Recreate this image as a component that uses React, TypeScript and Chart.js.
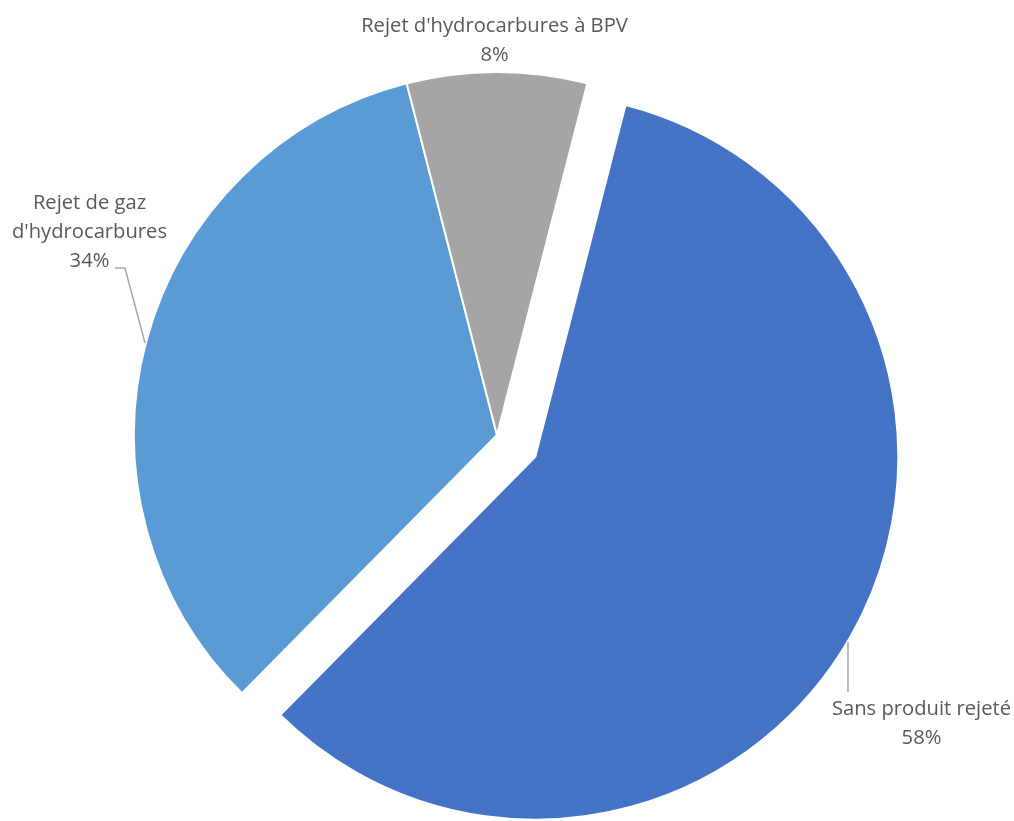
import React, { useEffect, useRef } from "react";
import { Chart, registerables } from "chart.js";

Chart.register(...registerables);

const categories = ["Sans produit rejeté", "Rejet de gaz d'hydrocarbures", "Rejet d'hydrocarbures à BPV"];
const shares = [58.4, 33.6, 8.0];
const sliceColors = ["#4472C4", "#5B9BD5", "#A5A5A5"];
const labelNameLines = [
  ["Sans produit rejeté"],
  ["Rejet de gaz", "d'hydrocarbures"],
  ["Rejet d'hydrocarbures à BPV"],
];
// explosion distance of each slice (px, along the slice's mid-angle)
const explodeDist = [44, 0, 0];

// label layout relative to each slice's (exploded) centre, in px
const labelLayout = [
  { dx: 386.2, dy: 258.3, leader: [[312.7, 185.3], [312.7, 235.3]] as number[][] | null },
  { dx: -407.5, dy: -226, leader: [[-382, -167], [-372, -167], [-352, -92]] as number[][] | null },
  { dx: -2.5, dy: -403.3, leader: null as number[][] | null },
];

const FONT = '20.2px "Open Sans", "Noto Sans", sans-serif';
const LINE_H = 28.8;

function sliceShift(arc: any, i: number) {
  const p = arc.getProps(["startAngle", "endAngle"], true);
  const mid = (p.startAngle + p.endAngle) / 2;
  const d = explodeDist[i] || 0;
  return [Math.cos(mid) * d, Math.sin(mid) * d];
}

const explodePlugin = {
  id: "explodeSlices",
  afterUpdate(chart: any) {
    const meta = chart.getDatasetMeta(0);
    meta.data.forEach((arc: any, i: number) => {
      if (!explodeDist[i] || arc.__patched) return;
      const orig = arc.draw.bind(arc);
      arc.draw = (ctx: CanvasRenderingContext2D) => {
        const [sx, sy] = sliceShift(arc, i);
        ctx.save();
        ctx.translate(sx, sy);
        orig(ctx);
        ctx.restore();
      };
      arc.__patched = true;
    });
  },
};

const labelPlugin = {
  id: "sliceLabels",
  afterDatasetsDraw(chart: any) {
    const ctx = chart.ctx;
    const meta = chart.getDatasetMeta(0);
    const values = chart.data.datasets[0].data as number[];
    const total = values.reduce((a, b) => a + b, 0);
    meta.data.forEach((arc: any, i: number) => {
      const p = arc.getProps(["x", "y"], true);
      const [sx, sy] = sliceShift(arc, i);
      const cx = p.x + sx;
      const cy = p.y + sy;
      const L = labelLayout[i];
      ctx.save();
      if (L.leader) {
        ctx.strokeStyle = "#A6A6A6";
        ctx.lineWidth = 1.5;
        ctx.beginPath();
        L.leader.forEach((pt, k) => {
          if (k === 0) ctx.moveTo(cx + pt[0], cy + pt[1]);
          else ctx.lineTo(cx + pt[0], cy + pt[1]);
        });
        ctx.stroke();
      }
      ctx.fillStyle = "#595959";
      ctx.font = FONT;
      ctx.textAlign = "center";
      ctx.textBaseline = "alphabetic";
      const lines = [...labelNameLines[i], Math.round((values[i] / total) * 100) + "%"];
      lines.forEach((t, k) => {
        ctx.fillText(t, cx + L.dx, cy + L.dy + k * LINE_H);
      });
      ctx.restore();
    });
  },
};

export default function App() {
  const ref = useRef<HTMLCanvasElement | null>(null);
  useEffect(() => {
    if (!ref.current) return;
    const chart = new Chart(ref.current, {
      type: "pie",
      data: {
        labels: categories,
        datasets: [
          {
            data: shares,
            backgroundColor: sliceColors,
            borderColor: "#FFFFFF",
            borderWidth: 2,
            hoverOffset: 0,
          } as any,
        ],
      },
      options: {
        animation: false,
        responsive: false,
        rotation: 14.4,
        radius: 363,
        layout: { padding: { left: 0, right: 20, top: 49, bottom: 0 } },
        plugins: { legend: { display: false }, tooltip: { enabled: false } },
        events: [],
      } as any,
      plugins: [explodePlugin, labelPlugin],
    });
    return () => chart.destroy();
  }, []);
  return (
    <div style={{ position: "absolute", left: 0, top: 0, width: 1014, height: 821, background: "#fff" }}>
      <canvas ref={ref} width={1014} height={821} style={{ width: 1014, height: 821 }} />
    </div>
  );
}
